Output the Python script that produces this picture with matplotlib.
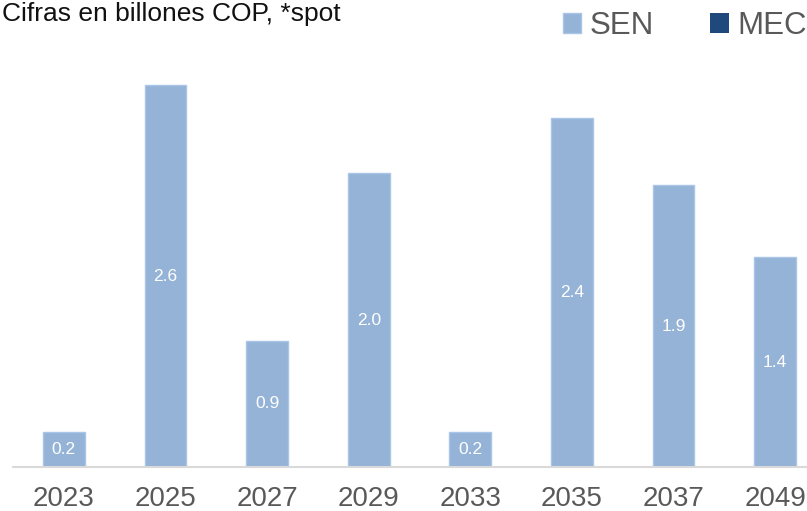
import matplotlib.pyplot as plt
from matplotlib.patches import Patch

# data
years = ['2023', '2025', '2027', '2029', '2033', '2035', '2037', '2049']
sen = [0.24, 2.6, 0.86, 2.0, 0.24, 2.38, 1.92, 1.43]
mec = [0, 0, 0, 0, 0, 0, 0, 0]

SEN_COLOR = '#95B3D7'
MEC_COLOR = '#1F497D'
TEXT_GRAY = '#595959'

plt.rcParams['font.family'] = ['Liberation Sans', 'DejaVu Sans']

W, H = 807, 511
fig = plt.figure(figsize=(W / 100, H / 100), dpi=100)

# axes in pixel terms: baseline at y=467, x from 13 to 826 (runs off the right edge)
left, right = 13, 826
bottom, top = 467, 56
ax = fig.add_axes([left / W, (H - bottom) / H, (right - left) / W, (bottom - top) / H])

x = range(len(years))
bars = ax.bar(x, sen, width=0.41, color=SEN_COLOR, edgecolor='#A9C6E8', linewidth=1, label='SEN')
ax.bar(x, mec, width=0.41, bottom=sen, color=MEC_COLOR, label='MEC')

for rect, v in zip(bars, sen):
    ax.text(rect.get_x() + rect.get_width() / 2, v / 2, f'{v:.1f}',
            ha='center', va='center', color='white', fontsize=12.5)

ax.set_xlim(-0.5, len(years) - 0.5)
ax.set_ylim(0, 2.8)
ax.set_xticks(list(x))
ax.set_xticklabels(years, fontsize=20, color=TEXT_GRAY)
ax.tick_params(axis='x', length=0, pad=14)
ax.set_yticks([])
for side in ['top', 'right', 'left']:
    ax.spines[side].set_visible(False)
ax.spines['bottom'].set_color('#D9D9D9')
ax.spines['bottom'].set_linewidth(1.5)

fig.text(2 / W, 1 - 2 / H, 'Cifras en billones COP, *spot', ha='left', va='top',
         fontsize=19, color='#111111')

handles = [Patch(facecolor=SEN_COLOR, edgecolor='#A9C6E8'), Patch(facecolor=MEC_COLOR)]
fig.legend(handles, ['SEN', 'MEC'], loc='upper right', bbox_to_anchor=(1.0, 1 - 11 / H),
           ncol=2, frameon=False, fontsize=22.5, labelcolor=TEXT_GRAY,
           handlelength=0.6, handleheight=0.6, handletextpad=0.27,
           columnspacing=1.8, borderpad=0, borderaxespad=0)

fig.savefig('out.png', dpi=100)
